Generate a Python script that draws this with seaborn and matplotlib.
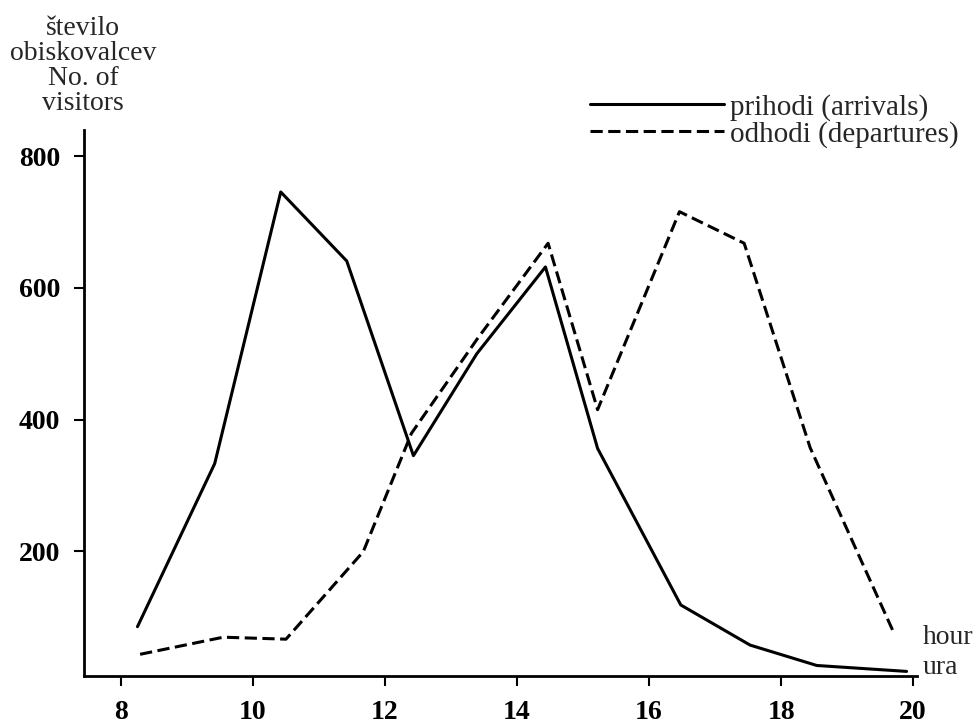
import seaborn as sns
import matplotlib.pyplot as plt

# arrivals (solid) and departures (dashed)
hours_arr = [8.25, 9.42, 10.42, 11.42, 12.43, 13.39, 14.43, 15.22, 16.48, 17.53, 18.54, 19.9]
arrivals = [85, 333, 746, 641, 345, 500, 632, 356, 118, 57, 26, 17]
hours_dep = [8.29, 9.55, 10.5, 11.67, 12.4, 13.4, 14.47, 15.22, 16.46, 17.44, 18.44, 19.71]
departures = [43, 69, 66, 199, 379, 523, 668, 415, 716, 668, 357, 75]
x_ticks = [8, 10, 12, 14, 16, 18, 20]
y_ticks = [200, 400, 600, 800]

sns.set_style('ticks')
plt.rcParams['font.family'] = ['Liberation Serif', 'DejaVu Serif']

fig = plt.figure(figsize=(9.79, 7.23), dpi=100)
ax = fig.add_axes([0.0858, 0.065, 0.851, 0.755])

sns.lineplot(x=hours_arr, y=arrivals, ax=ax, color='black', linewidth=2.2,
             label='prihodi (arrivals)')
sns.lineplot(x=hours_dep, y=departures, ax=ax, color='black', linewidth=2.2,
             linestyle=(0, (4, 1.8)), label='odhodi (departures)')

ax.set_xlim(7.44, 20.06)
ax.set_ylim(10, 840)
ax.set_xticks(x_ticks)
ax.set_yticks(y_ticks)
ax.tick_params(direction='out', length=7, width=1.5, labelsize=20, pad=10, colors='black')
for lab in ax.get_xticklabels() + ax.get_yticklabels():
    lab.set_fontweight('bold')
sns.despine(ax=ax)
for s in ['left', 'bottom']:
    ax.spines[s].set_linewidth(2)
    ax.spines[s].set_color('black')

ax.legend(loc='upper left', bbox_to_anchor=(590 / 979, 1 - 94 / 723),
          bbox_transform=fig.transFigure, frameon=False, fontsize=21,
          handlelength=4.6, handletextpad=0.2, labelspacing=0.0,
          borderpad=0, borderaxespad=0)

fig.text(0.085, 1 - 66 / 723, 'število\nobiskovalcev\nNo. of\nvisitors',
         ha='center', va='center', multialignment='center', fontsize=20,
         linespacing=1.0)
fig.text(923 / 979, 1 - 638 / 723, 'hour', ha='left', va='center', fontsize=20)
fig.text(923 / 979, 1 - 668 / 723, 'ura', ha='left', va='center', fontsize=20)

fig.savefig('out.png', dpi=100)
